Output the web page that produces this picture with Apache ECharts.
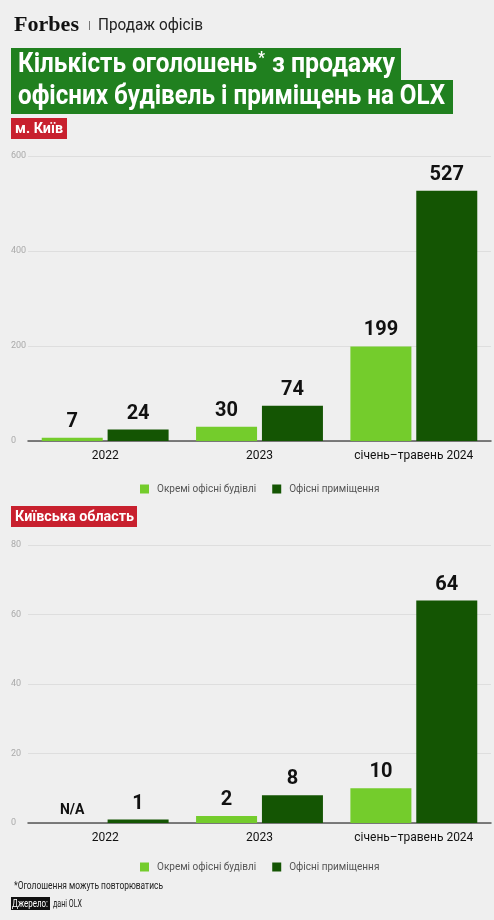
<!DOCTYPE html>
<html>
<head>
<meta charset="utf-8">
<script src="https://cdn.jsdelivr.net/npm/echarts@6/dist/echarts.min.js"></script>
<style>
  html, body { margin: 0; padding: 0; background: #efefef; }
  #chart { width: 494px; height: 920px; }
</style>
</head>
<body>
<div id="chart"></div>
<script>
// дані
var categories = ['2022', '2023', 'січень–травень 2024'];
var seriesNames = ['Окремі офісні будівлі', 'Офісні приміщення'];
var kyivBuildings = [7, 30, 199];
var kyivOffices = [24, 74, 527];
var regionBuildings = [null, 2, 10]; // null = N/A
var regionOffices = [1, 8, 64];
var kyivAxis = { max: 600, step: 200 };
var regionAxis = { max: 80, step: 20 };

var FONT = 'Roboto, "Noto Sans", sans-serif';
var LIGHT = '#74cc2c';
var DARK = '#145503';
var GREEN = '#20801f';
var RED = '#c8202e';

var chart = echarts.init(document.getElementById('chart'));

// стиснутий текст: шрифт без condensed, тому підганяємо ширину
var measureCtx = document.createElement('canvas').getContext('2d');
function fitted(txt, font, x, y, width, fill) {
  measureCtx.font = font;
  var w = measureCtx.measureText(txt).width;
  return {
    type: 'text', x: x, y: y, scaleX: width / w,
    style: { text: txt, font: font, fill: fill, verticalAlign: 'middle' }
  };
}

function withNA(arr) {
  return arr.map(function (v) {
    if (v === null) return { value: 0, label: { formatter: 'N/A', fontSize: 14 } };
    return v;
  });
}

function yAxis(idx, cfg) {
  return {
    gridIndex: idx, type: 'value', min: 0, max: cfg.max, interval: cfg.step,
    axisLine: { show: false }, axisTick: { show: false },
    axisLabel: { color: '#aaa', fontSize: 9, fontFamily: FONT, align: 'left', margin: 17 },
    splitLine: { lineStyle: { color: '#dedede', width: 1 } }
  };
}

function xAxis(idx) {
  return {
    gridIndex: idx, type: 'category', data: categories,
    axisLine: { lineStyle: { color: '#555', width: 1.5 } },
    axisTick: { show: false },
    axisLabel: { color: '#111', fontSize: 12, fontFamily: FONT, margin: 9, interval: 0 }
  };
}

var barLabel = { show: true, position: 'top', distance: 6, color: '#111', fontSize: 20, fontWeight: 'bold', fontFamily: FONT };

function bar(name, data, color, idx) {
  return {
    type: 'bar', name: name, xAxisIndex: idx, yAxisIndex: idx,
    data: data, barWidth: 61, barGap: '8%',
    itemStyle: { color: color }, label: barLabel, silent: true
  };
}

function legend(top) {
  return {
    top: top, left: 135, icon: 'rect', itemWidth: 9, itemHeight: 9, itemGap: 16,
    selectedMode: false,
    textStyle: { color: '#555', fontSize: 10, fontFamily: FONT, padding: [0, 0, 0, 3] },
    data: seriesNames
  };
}

function tag(x, y, w, txt, txtW) {
  return [
    { type: 'rect', shape: { x: x, y: y, width: w, height: 21 }, style: { fill: RED } },
    fitted(txt, 'bold 15px ' + FONT, x + 4, y + 11, txtW, '#fff')
  ];
}

chart.setOption({
  backgroundColor: '#efefef',
  animation: false,
  grid: [
    { left: 28, right: 3, top: 156, height: 285 },
    { left: 28, right: 3, top: 545, height: 278 }
  ],
  xAxis: [xAxis(0), xAxis(1)],
  yAxis: [yAxis(0, kyivAxis), yAxis(1, regionAxis)],
  legend: [legend(479), legend(857)],
  series: [
    bar(seriesNames[0], kyivBuildings, LIGHT, 0),
    bar(seriesNames[1], kyivOffices, DARK, 0),
    bar(seriesNames[0], withNA(regionBuildings), LIGHT, 1),
    bar(seriesNames[1], regionOffices, DARK, 1)
  ],
  graphic: [
    fitted('Forbes', 'bold 22px "Liberation Serif", serif', 14, 25, 65, '#111'),
    { type: 'rect', shape: { x: 89, y: 21, width: 1, height: 9 }, style: { fill: '#777' } },
    fitted('Продаж офісів', '17px ' + FONT, 98, 26, 105, '#222'),
    { type: 'rect', shape: { x: 11, y: 48, width: 390, height: 33 }, style: { fill: GREEN } },
    { type: 'rect', shape: { x: 11, y: 80, width: 442, height: 34 }, style: { fill: GREEN } },
    fitted('Кількість оголошень', 'bold 27px ' + FONT, 18, 65, 239, '#fff'),
    fitted('*', 'bold 16px ' + FONT, 258, 59, 7, '#fff'),
    fitted('з продажу', 'bold 27px ' + FONT, 272, 65, 123, '#fff'),
    fitted('офісних будівель і приміщень на OLX', 'bold 27px ' + FONT, 18, 97, 427, '#fff')
  ]
    .concat(tag(11, 118, 56, 'м. Київ', 48))
    .concat(tag(11, 506, 126, 'Київська область', 119))
    .concat([
      fitted('*Оголошення можуть повторюватись', '10px ' + FONT, 14, 886, 149, '#222'),
      { type: 'rect', shape: { x: 11, y: 897, width: 39, height: 13 }, style: { fill: '#111' } },
      fitted('Джерело:', '10px ' + FONT, 12, 904, 36, '#fff'),
      fitted('дані OLX', '10px ' + FONT, 53, 904, 29, '#222')
    ])
});
</script>
</body>
</html>
